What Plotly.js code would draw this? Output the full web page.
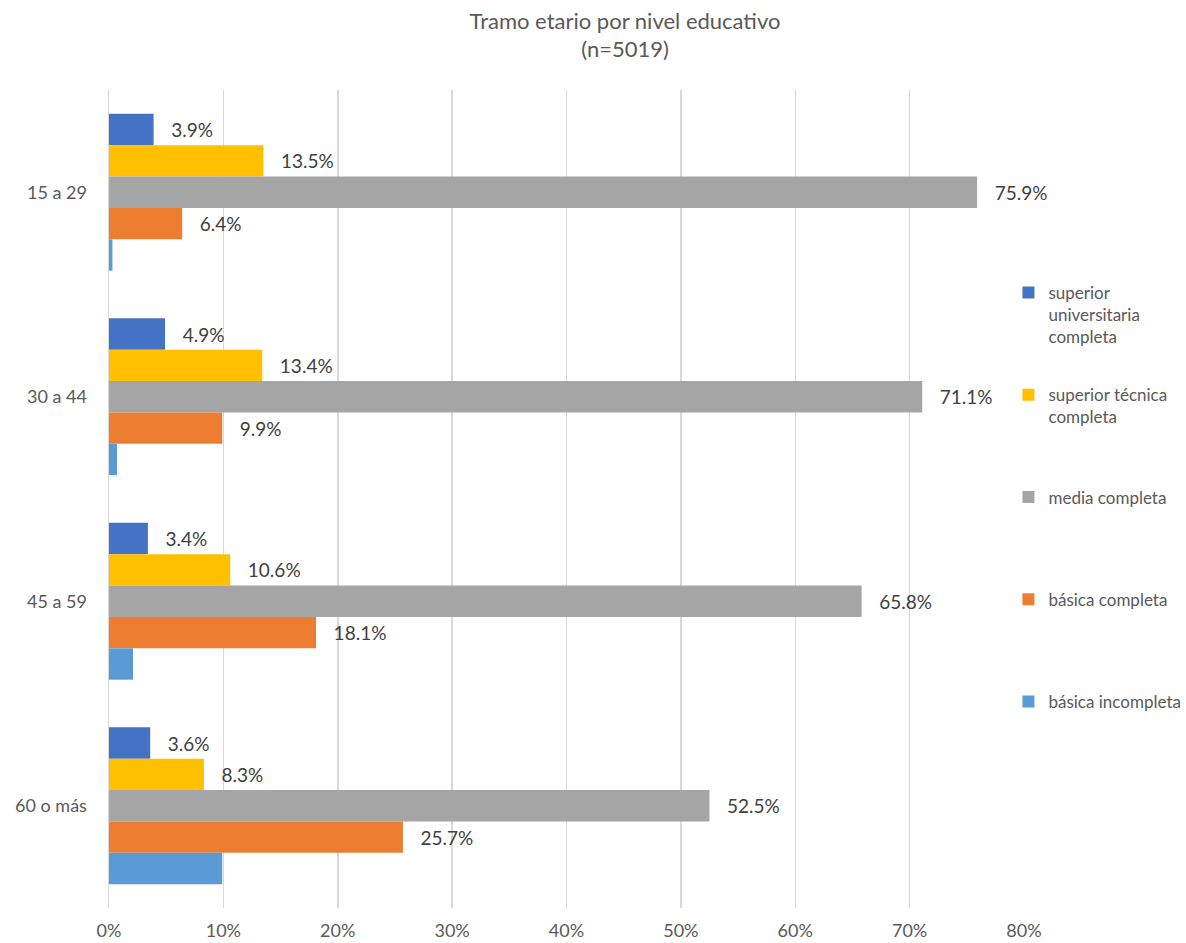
<!DOCTYPE html>
<html>
<head>
<meta charset="utf-8">
<script src="https://cdn.plot.ly/plotly-3.0.1.min.js"></script>
<style>html,body{margin:0;padding:0;background:#fff;}</style>
</head>
<body>
<div id="chart" style="width:1186px;height:943px;"></div>
<script>
const categories = ["15 a 29", "30 a 44", "45 a 59", "60 o más"];
const seriesNames = ["superior universitaria completa", "superior técnica completa", "media completa", "básica completa", "básica incompleta"];
const legendLabels = ["superior<br>universitaria<br>completa", "superior técnica<br>completa<br>\u00a0", "media completa<br>\u00a0<br>\u00a0", "básica completa<br>\u00a0<br>\u00a0", "básica incompleta<br>\u00a0<br>\u00a0"];
const superiorUniversitaria = [3.9, 4.9, 3.4, 3.6];
const superiorTecnica = [13.5, 13.4, 10.6, 8.3];
const mediaCompleta = [75.9, 71.1, 65.8, 52.5];
const basicaCompleta = [6.4, 9.9, 18.1, 25.7];
const basicaIncompleta = [0.3, 0.7, 2.1, 9.9];
const showLabels = [true, true, true, true, false];
const colors = ["#4472C4", "#FFC000", "#A5A5A5", "#ED7D31", "#5B9BD5"];
const xTickVals = [0, 0.1, 0.2, 0.3, 0.4, 0.5, 0.6, 0.7, 0.8];
const xTickText = ["0%", "10%", "20%", "30%", "40%", "50%", "60%", "70%", "80%"];

const allSeries = [superiorUniversitaria, superiorTecnica, mediaCompleta, basicaCompleta, basicaIncompleta];
const FONT = "Lato, 'Open Sans', sans-serif";

const traces = allSeries.map((vals, i) => ({
  type: "bar",
  orientation: "h",
  name: legendLabels[i],
  legendgroup: "g" + i,
  y: categories,
  x: vals.map(v => v / 100),
  marker: {color: colors[i]},
  text: showLabels[i] ? vals.map(v => "\u00a0\u00a0\u00a0" + v.toFixed(1) + "%") : undefined,
  textposition: showLabels[i] ? "outside" : "none",
  textfont: {family: FONT, size: 19, color: "#404040"},
  cliponaxis: false,
  hoverinfo: "x+y"
}));

const layout = {
  width: 1186,
  height: 943,
  paper_bgcolor: "#ffffff",
  plot_bgcolor: "#ffffff",
  font: {family: FONT, color: "#595959"},
  title: {
    text: "Tramo etario por nivel educativo<br>(n=5019)",
    font: {family: FONT, size: 22, color: "#595959"},
    xref: "container", yref: "container",
    x: 0.527, xanchor: "center",
    y: 0.9694, yanchor: "middle"
  },
  margin: {l: 109, r: 162, t: 90, b: 35, autoexpand: false},
  barmode: "group",
  bargap: 0.233,
  bargroupgap: 0,
  xaxis: {
    range: [0, 0.8],
    tickvals: xTickVals,
    ticktext: xTickText,
    showgrid: true,
    gridcolor: "#D9D9D9",
    gridwidth: 1.5,
    zeroline: false,
    showline: false,
    ticklabelstandoff: 10,
    tickfont: {family: FONT, size: 18, color: "#595959"},
    fixedrange: true
  },
  yaxis: {
    type: "category",
    autorange: "reversed",
    showgrid: false,
    zeroline: false,
    showline: true,
    linecolor: "#D9D9D9",
    linewidth: 1.5,
    ticks: "",
    ticklabelstandoff: 17,
    tickfont: {family: FONT, size: 18, color: "#595959"},
    fixedrange: true
  },
  legend: {
    x: 0.983, xanchor: "left",
    y: 0.774, yanchor: "top",
    traceorder: "grouped",
    tracegroupgap: 33,
    valign: "top",
    itemwidth: 30,
    font: {family: FONT, size: 17, color: "#595959"},
    bgcolor: "rgba(0,0,0,0)"
  },
  showlegend: true
};

Plotly.newPlot("chart", traces, layout, {displayModeBar: false, staticPlot: true});
</script>
</body>
</html>
